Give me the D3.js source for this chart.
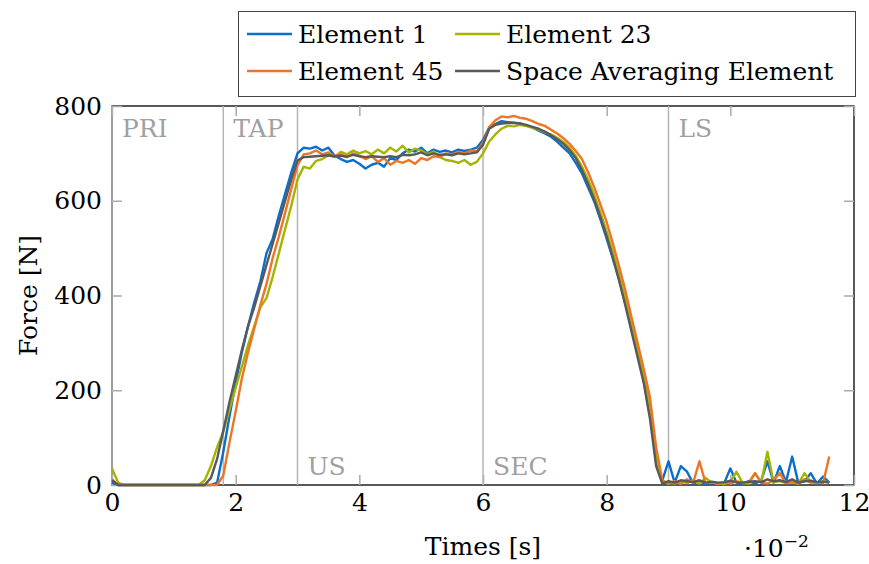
<!DOCTYPE html>
<html><head><meta charset="utf-8">
<script src="https://cdn.jsdelivr.net/npm/d3@7"></script>
<style>body{margin:0;background:#fff}svg{display:block}text{font-family:"DejaVu Serif",serif}</style>
</head><body><svg id="c" width="869" height="564"></svg>
<script>
// time axis in units of 1e-2 s, sampled every 0.1
const times = d3.range(0, 117).map(i => +(i * 0.1).toFixed(1));
const element1 = [5,0,0,0,0,0,0,0,0,0,0,0,0,0,0,
  0,0,5,70,145,215,280,335,385,430,490,520,570,615,660,700,
  712,710,714,706,712,695,688,682,686,678,668,676,680,672,690,686,700,708,704,712,700,708,703,706,702,708,705,708,712,
  728,755,762,768,766,765,763,758,755,748,742,735,725,712,700,680,658,628,598,560,520,478,435,385,330,275,220,150,50,10,
  50,5,40,28,3,8,2,6,0,4,35,5,2,8,3,10,50,5,40,6,60,4,8,25,3,18,5];
const element23 = [35,5,0,0,0,0,0,0,0,0,0,0,0,0,0,
  10,40,80,112,160,205,250,295,335,375,395,440,490,540,590,645,
  672,668,684,688,696,692,703,698,706,700,705,698,708,700,712,704,716,702,710,706,698,704,692,686,684,680,686,676,682,
  700,725,740,752,758,757,760,758,754,750,745,740,733,724,712,695,672,645,612,575,535,492,445,395,342,287,230,165,60,5,
  5,3,8,4,10,3,15,5,4,2,6,28,4,3,25,5,70,6,8,4,5,3,25,6,4,8,5];
const element45 = [12,0,0,0,0,0,0,0,0,0,0,0,0,0,0,
  0,0,0,20,90,155,225,280,330,380,425,480,525,575,625,675,
  698,700,706,698,702,694,698,692,700,695,688,694,682,690,676,684,680,686,678,690,686,694,692,700,698,703,700,706,704,
  722,755,770,778,776,779,775,773,768,762,758,750,742,732,720,705,688,660,628,592,555,510,462,412,355,300,245,185,80,10,
  3,8,2,12,5,50,4,6,2,5,3,8,4,6,25,5,3,10,25,4,8,3,12,5,6,4,60];
const spaceAvg = [10,0,0,0,0,0,0,0,0,0,0,0,0,0,0,
  0,15,55,115,175,230,285,335,375,420,465,510,555,600,645,685,
  692,693,694,695,696,694,695,693,697,694,692,694,693,692,694,692,697,696,698,702,696,700,697,698,696,700,698,700,702,
  718,752,760,763,764,764,763,760,756,752,746,738,730,720,707,690,665,635,602,565,525,480,432,380,325,270,215,140,40,3,
  8,5,10,8,6,10,5,7,5,6,9,6,5,7,8,6,12,8,10,6,12,5,8,9,6,7,5];

const seriesNames = ["Element 1","Element 23","Element 45","Space Averaging Element"];
const seriesColors = ["#0a6fcc","#a6b300","#ee7526","#595959"];
const seriesValues = [element1, element23, element45, spaceAvg];

const phaseStarts = [0, 1.8, 3, 6, 9];
const phaseLabels = ["PRI","TAP","US","SEC","LS"];
const phaseLabelPos = ["top","top","bottom","bottom","top"];

const xTicks = [0,2,4,6,8,10,12];
const yTicks = [0,200,400,600,800];

const svg = d3.select("#c");
const L = 112, R = 854, T = 106, B = 485;
const x = d3.scaleLinear().domain([0,12]).range([L,R]);
const y = d3.scaleLinear().domain([0,800]).range([B,T]);
const FS = 25;

// frame
svg.append("rect").attr("x",L).attr("y",T).attr("width",R-L).attr("height",B-T)
  .attr("fill","none").attr("stroke","#000").attr("stroke-width",1.3);

// ticks (inward) via d3 axes
const tickCol = "#aaaaaa";
function styleTicks(g){ g.select(".domain").remove(); g.selectAll("line").attr("stroke",tickCol).attr("stroke-width",1.5); g.selectAll("text").remove(); }
svg.append("g").attr("transform",`translate(0,${B})`).call(d3.axisBottom(x).tickValues(xTicks).tickSizeInner(-10).tickSizeOuter(0)).call(styleTicks);
svg.append("g").attr("transform",`translate(0,${T})`).call(d3.axisTop(x).tickValues(xTicks).tickSizeInner(-10).tickSizeOuter(0)).call(styleTicks);
svg.append("g").attr("transform",`translate(${L},0)`).call(d3.axisLeft(y).tickValues(yTicks).tickSizeInner(-10).tickSizeOuter(0)).call(styleTicks);
svg.append("g").attr("transform",`translate(${R},0)`).call(d3.axisRight(y).tickValues(yTicks).tickSizeInner(-10).tickSizeOuter(0)).call(styleTicks);

// tick labels
const xl = svg.append("g").attr("transform",`translate(0,${B})`).call(d3.axisBottom(x).tickValues(xTicks).tickSize(0).tickPadding(8).tickFormat(d3.format("d")));
xl.select(".domain").remove();
xl.selectAll("text").attr("font-size",FS).attr("font-family","DejaVu Serif").attr("fill","#000");
const yl = svg.append("g").attr("transform",`translate(${L},0)`).call(d3.axisLeft(y).tickValues(yTicks).tickSize(0).tickPadding(10).tickFormat(d3.format("d")));
yl.select(".domain").remove();
yl.selectAll("text").attr("font-size",FS).attr("font-family","DejaVu Serif").attr("fill","#000");

// phase lines & labels
const phaseCol = "#b4b4b4";
svg.append("g").selectAll("line").data(phaseStarts).join("line")
  .attr("x1",d=>x(d)).attr("x2",d=>x(d)).attr("y1",T).attr("y2",B)
  .attr("stroke",phaseCol).attr("stroke-width",1.5);
svg.append("g").selectAll("text").data(phaseStarts).join("text")
  .attr("x",d=>x(d)+10)
  .attr("y",(d,i)=>phaseLabelPos[i]==="top" ? T+31 : B-10)
  .attr("font-size",FS).attr("fill","#a0a0a0")
  .text((d,i)=>phaseLabels[i]);

// series
const line = d3.line().x((d,i)=>x(times[i])).y(d=>y(d));
svg.append("g").selectAll("path").data(seriesValues).join("path")
  .attr("d",d=>line(d)).attr("fill","none")
  .attr("stroke",(d,i)=>seriesColors[i]).attr("stroke-width",2.4)
  .attr("stroke-linejoin","round");

// axis titles
svg.append("text").attr("x",(L+R)/2).attr("y",555).attr("text-anchor","middle")
  .attr("font-size",FS).text("Times [s]");
svg.append("text").attr("transform",`translate(37,${(T+B)/2}) rotate(-90)`).attr("text-anchor","middle")
  .attr("font-size",FS).text("Force [N]");
const sc = svg.append("text").attr("x",744).attr("y",557).attr("font-size",FS);
sc.append("tspan").text("·10");
sc.append("tspan").attr("dy",-10).attr("font-size",17).text("−2");

// legend
const lg = svg.append("g");
lg.append("rect").attr("x",238.5).attr("y",11.5).attr("width",617).attr("height",85)
  .attr("fill","#fff").attr("stroke","#444").attr("stroke-width",1);
const legPos = [[247,34],[455,34],[247,71],[455,71]];
seriesNames.forEach((n,i)=>{
  const [lx,ly] = legPos[i];
  lg.append("line").attr("x1",lx).attr("x2",lx+45).attr("y1",ly).attr("y2",ly)
    .attr("stroke",seriesColors[i]).attr("stroke-width",2.5);
  lg.append("text").attr("x",lx+51).attr("y",ly+9).attr("font-size",FS).text(n);
});
</script></body></html>
